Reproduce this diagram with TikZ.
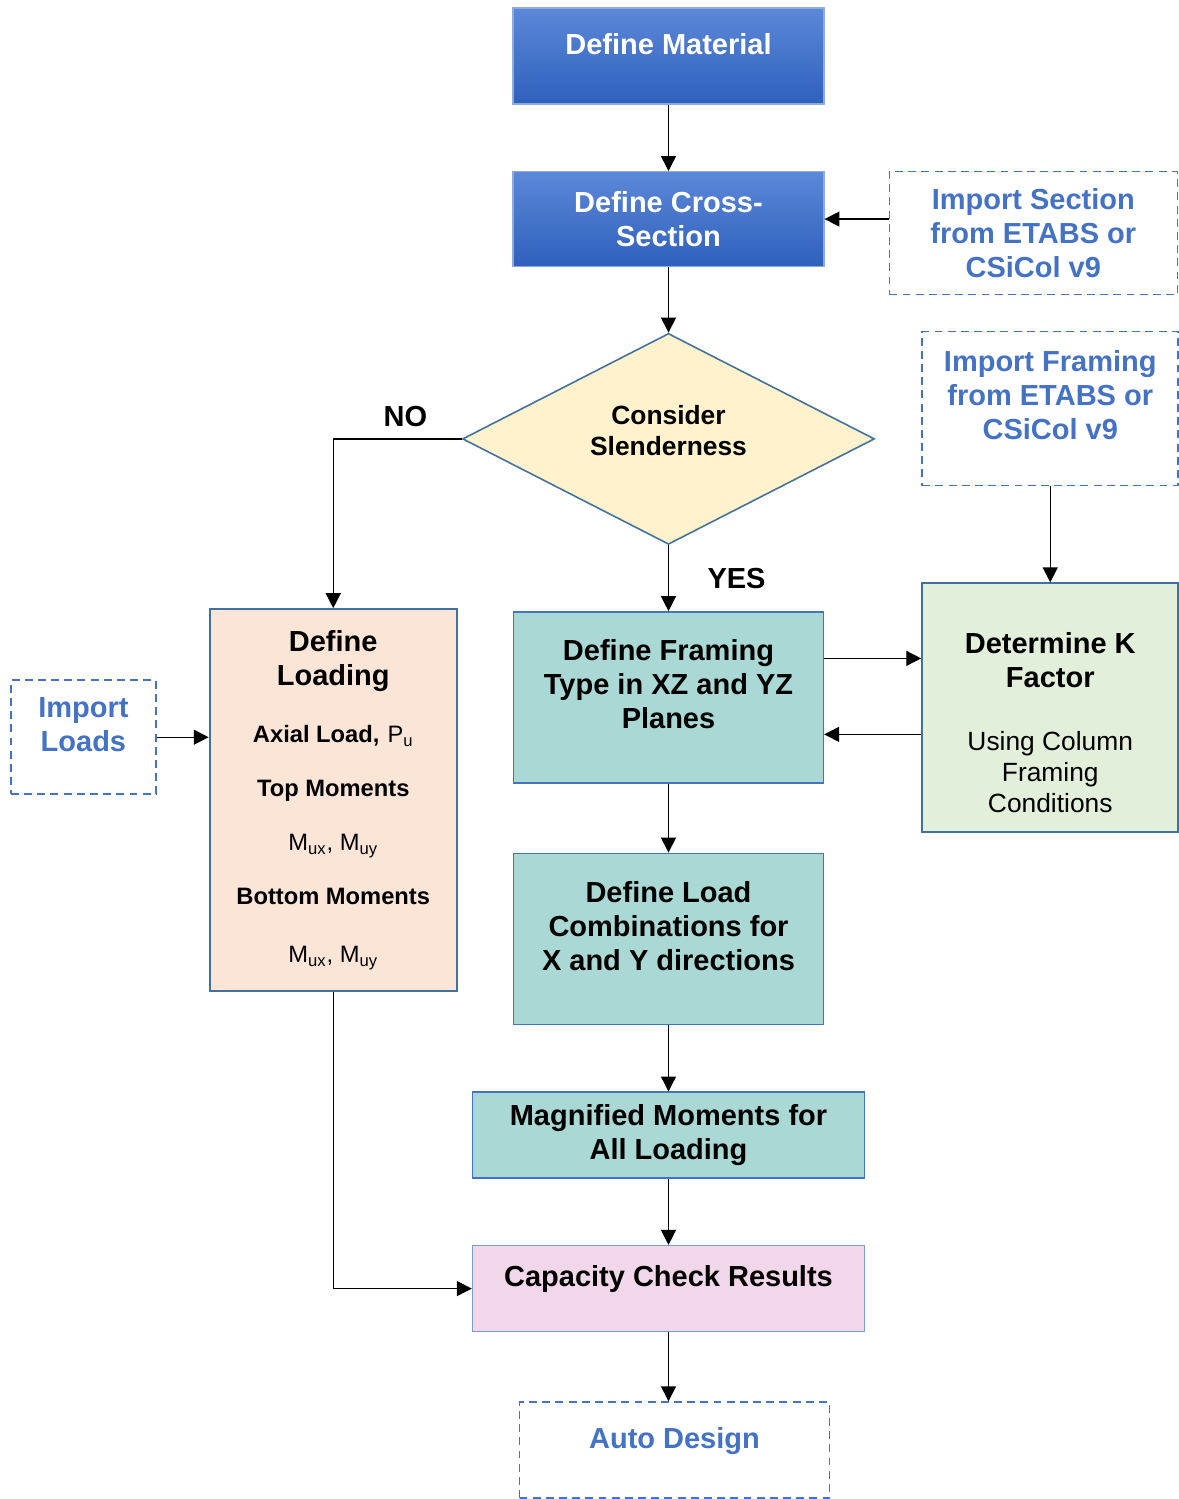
\documentclass[tikz,border=0pt]{standalone}
\usepackage{fontspec}
\setmainfont{Liberation Sans}
\usetikzlibrary{arrows.meta,positioning,shapes.geometric}
\definecolor{topblue}{HTML}{5C88D8}
\definecolor{botblue}{HTML}{2F60BC}
\definecolor{edgeblue}{HTML}{8FAADC}
\definecolor{linkblue}{HTML}{4472C4}
\definecolor{steel}{HTML}{41719C}
\definecolor{tealfill}{HTML}{A9D8D5}
\definecolor{peach}{HTML}{FBE5D6}
\definecolor{mint}{HTML}{E2EFDA}
\definecolor{cream}{HTML}{FFF2CC}
\definecolor{pinkfill}{HTML}{F2D7EA}
\newcommand{\mainfnt}{\fontsize{16.5}{19.3}\selectfont\bfseries}
\newcommand{\smallb}{\fontsize{13.5}{16}\selectfont\bfseries}
\newcommand{\smallr}{\fontsize{13.5}{16}\selectfont\mdseries}
\newcommand{\condfnt}{\fontsize{15}{17.6}\selectfont\mdseries}

\begin{document}
\begin{tikzpicture}[>={Triangle[length=8.5pt,width=8.5pt]}, line width=0.8pt,
  base/.style = {rectangle, align=center, font=\mainfnt},
  lift/.style = {execute at end node={\rule[-#1]{0pt}{0pt}}},
  solid/.style = {base, draw=edgeblue, line width=0.6pt, top color=topblue, bottom color=botblue, text=white},
  proc/.style = {base, draw=linkblue, line width=0.8pt, fill=tealfill},
  result/.style = {base, draw=linkblue!70, line width=0.8pt, fill=pinkfill},
  ext/.style = {base, draw=linkblue, dash pattern=on 4.5pt off 3pt, line width=0.9pt, text=linkblue},
  dec/.style = {diamond, aspect=2, draw=steel, line width=0.9pt, fill=cream, align=center, inner sep=0pt,
    font=\fontsize{15}{19.3}\selectfont\bfseries, minimum width=8.24cm, minimum height=4.22cm},
  lbl/.style = {font=\mainfnt}]
\useasboundingbox (0,0) rectangle (23.58,-29.98);

% main column
\node[solid, minimum width=6.22cm, minimum height=1.92cm, lift=14pt] (mat) at (13.37,-1.12) {Define Material};
\node[solid, minimum width=6.22cm, minimum height=1.9cm] (cross) [below=1.33cm of mat] {Define Cross-\\Section};
\node[dec, lift=10pt] (slen) [below=1.31cm of cross] {Consider\\[-1.7pt]Slenderness};
\node[proc, minimum width=6.2cm, minimum height=3.42cm, lift=15pt] (frame) [below=1.32cm of slen] {Define Framing\\Type in XZ and YZ\\Planes};
\node[proc, minimum width=6.2cm, minimum height=3.42cm, lift=15pt] (combo) [below=1.38cm of frame] {Define Load\\Combinations for\\X and Y directions};
\node[proc, minimum width=7.84cm, minimum height=1.72cm] (magn) [below=1.33cm of combo] {Magnified Moments for\\All Loading};
\node[result, minimum width=7.84cm, minimum height=1.72cm, lift=14pt] (cap) [below=1.32cm of magn] {Capacity Check Results};
\node[ext, minimum width=6.2cm, minimum height=1.92cm, lift=14pt] (auto) [below=1.38cm of cap, xshift=0.12cm] {Auto Design};

% right side
\node[ext, minimum width=5.76cm, minimum height=2.46cm] (impsec) [right=1.28cm of cross, yshift=-0.28cm] {Import Section\\from ETABS or\\CSiCol v9};
\node[base, draw=steel, line width=1.2pt, fill=mint, minimum width=5.12cm, minimum height=4.98cm] (kfac) [right=1.94cm of frame, yshift=-0.21cm]
  {\rule{0pt}{29pt}Determine K\\Factor\\[16.7pt]{\condfnt Using Column}\\[-1.7pt]{\condfnt Framing}\\[-1.7pt]{\condfnt Conditions}};
\node[ext, minimum width=5.12cm, minimum height=3.08cm, lift=15pt] (impfr) [above=1.92cm of kfac] {Import Framing\\from ETABS or\\CSiCol v9};

% left side
\node[base, draw=steel, line width=1.2pt, fill=peach, minimum width=4.94cm, minimum height=7.64cm] (load) [left=1.1cm of frame.north west, anchor=north east, yshift=0.06cm]
  {Define\\Loading\\[13pt]
   {\smallb Axial Load,} {\smallr P\textsubscript{u}}\\[11.3pt]
   {\smallb Top Moments}\\[11.5pt]
   {\smallr M\textsubscript{ux}, M\textsubscript{uy}}\\[11.3pt]
   {\smallb Bottom Moments}\\[14pt]
   {\smallr M\textsubscript{ux}, M\textsubscript{uy}}};
\node[ext, minimum width=2.9cm, minimum height=2.28cm, lift=14pt] (imld) [left=1.04cm of load, yshift=1.26cm] {Import\\Loads};

\draw[->] (mat) -- (cross);
\draw[->] (cross) -- (slen);
\draw[->] (impsec.west |- cross.east) -- (cross.east);
\draw[->] (slen) -- node[right=0.65cm, lbl] {YES} (frame);
\draw[->] (slen.west) -| node[pos=0.25, above=3pt, xshift=0.16cm, lbl] {NO} (load.north);
\draw[->] (impfr) -- (kfac);
\draw[->] ([yshift=0.78cm]frame.east) -- ([yshift=0.78cm]frame.east -| kfac.west);
\draw[->] ([yshift=-0.74cm]frame.east -| kfac.west) -- ([yshift=-0.74cm]frame.east);
\draw[->] (frame) -- (combo);
\draw[->] (combo) -- (magn);
\draw[->] (magn) -- (cap);
\draw[->] (cap.south) -- (cap.south |- auto.north);
\draw[->] (imld.east) -- (imld.east -| load.west);
\draw[->] (load.south) |- (cap.west);
\end{tikzpicture}
\end{document}
